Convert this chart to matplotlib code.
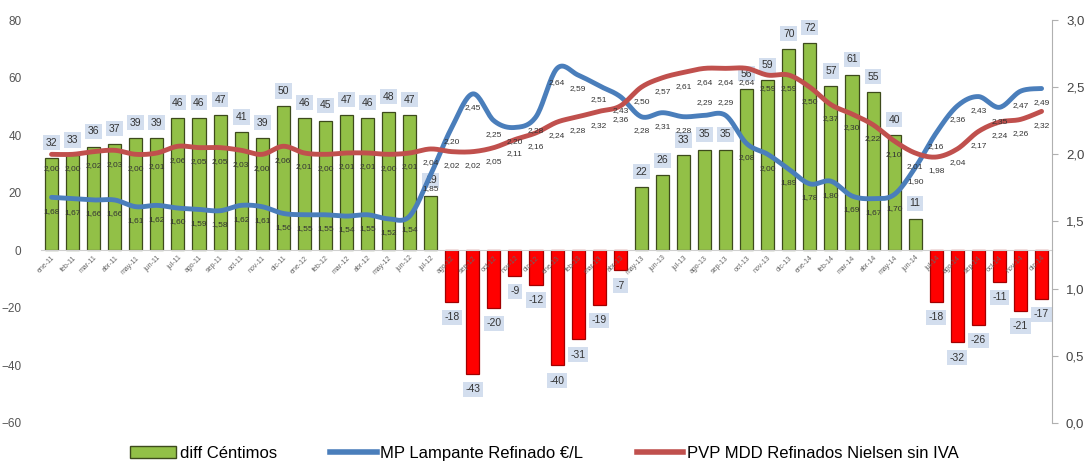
import numpy as np
import matplotlib.pyplot as plt
from matplotlib.patches import Patch
from matplotlib.lines import Line2D
from matplotlib.ticker import FuncFormatter

months = ['ene', 'feb', 'mar', 'abr', 'may', 'jun', 'jul', 'ago', 'sep', 'oct', 'nov', 'dic']
years = ['11', '12', '13', '14']
labels = [m + '-' + y for y in years for m in months]

# diferencia en céntimos (barras)
diff = [32, 33, 36, 37, 39, 39, 46, 46, 47, 41, 39, 50, 46, 45, 47, 46, 48, 47, 19,
        -18, -43, -20, -9, -12, -40, -31, -19, -7,
        22, 26, 33, 35, 35, 56, 59, 70, 72, 57, 61, 55, 40, 11,
        -18, -32, -26, -11, -21, -17]

# MP Lampante Refinado €/L
mp = [1.68, 1.67, 1.66, 1.66, 1.61, 1.62, 1.60, 1.59, 1.58, 1.62, 1.61, 1.56, 1.55, 1.55, 1.54, 1.55, 1.52, 1.54, 1.85,
      2.20, 2.45, 2.25, 2.20, 2.28, 2.64, 2.59, 2.51, 2.43,
      2.28, 2.31, 2.28, 2.29, 2.29, 2.08, 2.00, 1.89, 1.78, 1.80, 1.69, 1.67, 1.70, 1.90,
      2.16, 2.36, 2.43, 2.35, 2.47, 2.49]

# PVP MDD Refinados Nielsen sin IVA
pvp = [2.00, 2.00, 2.02, 2.03, 2.00, 2.01, 2.06, 2.05, 2.05, 2.03, 2.00, 2.06, 2.01, 2.00, 2.01, 2.01, 2.00, 2.01, 2.04,
       2.02, 2.02, 2.05, 2.11, 2.16, 2.24, 2.28, 2.32, 2.36,
       2.50, 2.57, 2.61, 2.64, 2.64, 2.64, 2.59, 2.59, 2.50, 2.37, 2.30, 2.22, 2.10, 2.01,
       1.98, 2.04, 2.17, 2.24, 2.26, 2.32]

GREEN = '#92c047'
RED = '#ff0000'
BLUE = '#4a7ebb'
DARKRED = '#c0504d'


def smooth(xs, ys, n=20):
    # Catmull-Rom, parecido al suavizado de Excel
    xs = np.asarray(xs, float)
    ys = np.asarray(ys, float)
    px = np.concatenate([[xs[0]], xs, [xs[-1]]])
    py = np.concatenate([[ys[0]], ys, [ys[-1]]])
    outx, outy = [], []
    t = np.linspace(0, 1, n, endpoint=False)
    for i in range(1, len(px) - 2):
        for p, out in ((px, outx), (py, outy)):
            p0, p1, p2, p3 = p[i - 1], p[i], p[i + 1], p[i + 2]
            out.extend(0.5 * ((2 * p1) + (-p0 + p2) * t
                              + (2 * p0 - 5 * p1 + 4 * p2 - p3) * t ** 2
                              + (-p0 + 3 * p1 - 3 * p2 + p3) * t ** 3))
    outx.append(xs[-1])
    outy.append(ys[-1])
    return outx, outy


x = np.arange(len(labels))
fig = plt.figure(figsize=(10.88, 4.71), dpi=100)
plt.rcParams['font.family'] = ['Liberation Sans', 'DejaVu Sans']
ax = fig.add_axes([0.0377, 0.102, 0.9293, 0.8555])

colors = [GREEN if v >= 0 else RED for v in diff]
edges = ['#3d4a1c' if v >= 0 else '#a00000' for v in diff]
ax.bar(x, diff, width=0.62, color=colors, edgecolor=edges, linewidth=0.9)
ax.set_xlim(-0.5, len(labels) - 0.5)
ax.set_ylim(-60, 80)
ax.set_yticks(range(-60, 81, 20))
for s in ('top', 'left', 'right'):
    ax.spines[s].set_visible(False)
ax.spines['bottom'].set_position(('data', 0))
ax.spines['bottom'].set_color('#d0d0d0')
ax.tick_params(axis='y', length=0, labelsize=8.5, labelcolor='#555555', pad=14)
ax.set_xticks(x, labels, rotation=45, ha='right', rotation_mode='anchor', fontsize=5)
ax.tick_params(axis='x', length=0, pad=3, labelcolor='#666666')

for xi, v in zip(x, diff):
    off = 11 if v >= 0 else -11
    ax.annotate(str(v), (xi, v), xytext=(0, off), textcoords='offset points',
                ha='center', va='center', fontsize=7.5, color='#333333',
                bbox=dict(boxstyle='square,pad=0.25', fc='#d3deee', ec='none'))

ax2 = ax.twinx()
ax2.set_ylim(0, 3)
ax2.set_yticks(np.arange(0, 3.01, 0.5))
ax2.yaxis.set_major_formatter(FuncFormatter(lambda v, p: f'{v:.1f}'.replace('.', ',')))
for s in ('top', 'left', 'bottom'):
    ax2.spines[s].set_visible(False)
ax2.spines['right'].set_color('#b0b0b0')
ax2.tick_params(axis='y', length=4, color='#b0b0b0', labelsize=9.5, labelcolor='#444444', pad=6)

sx, sy = smooth(x, mp)
ax2.plot(sx, sy, color=BLUE, lw=3.5, solid_capstyle='round')
sx, sy = smooth(x, pvp)
ax2.plot(sx, sy, color=DARKRED, lw=3.5, solid_capstyle='round')

for series in (mp, pvp):
    for xi, v in zip(x, series):
        off = -10
        # evitar choque con la etiqueta de la barra
        if series is mp and xi in (31, 32):
            off = 9
        ax2.annotate(f'{v:.2f}'.replace('.', ','), (xi, v), xytext=(0, off),
                     textcoords='offset points', ha='center', va='center',
                     fontsize=6, color='#333333')

handles = [Patch(facecolor=GREEN, edgecolor='#3d4a1c'),
           Line2D([], [], color=BLUE, lw=4),
           Line2D([], [], color=DARKRED, lw=4)]
fig.legend(handles, ['diff Céntimos', 'MP Lampante Refinado €/L', 'PVP MDD Refinados Nielsen sin IVA'],
           loc='lower center', bbox_to_anchor=(0.5, -0.01), ncol=3, frameon=False,
           fontsize=12, handlelength=2.8, handletextpad=0.2, columnspacing=3.2)

fig.savefig('out.png', dpi=100)
